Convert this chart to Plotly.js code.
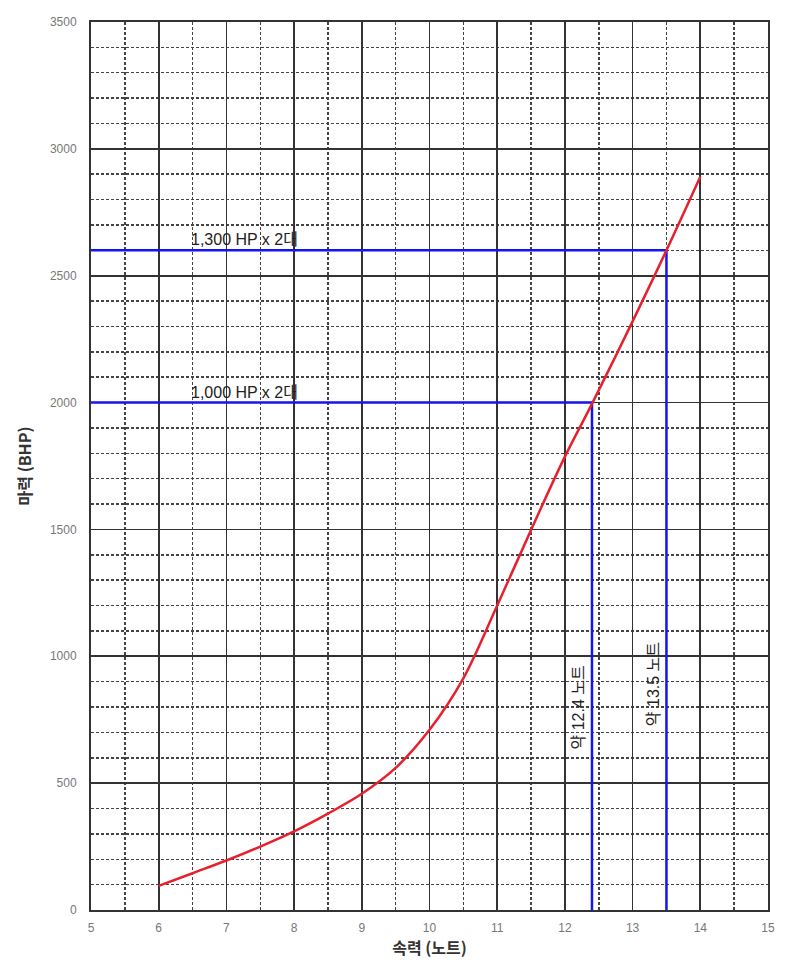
<!DOCTYPE html>
<html>
<head>
<meta charset="utf-8">
<script src="https://cdn.plot.ly/plotly-3.0.1.min.js"></script>
<style>body{margin:0;background:#fff}#chart{width:798px;height:970px}</style>
</head>
<body>
<div id="chart"></div>
<script>
// Data
const speedKnots = [6, 6.5, 7, 7.5, 8, 8.5, 9, 9.5, 10, 10.5, 11, 11.5, 12, 12.4, 13, 13.5, 14];
const powerBHP   = [95, 145, 195, 250, 310, 380, 458, 560, 710, 913, 1200, 1498, 1787, 1995, 2320, 2600, 2890];

const refPowers  = [2000, 2600];
const refSpeeds  = [12.4, 13.5];
const refLabels  = ["1,000 HP x 2대", "1,300 HP x 2대"];
const speedLabels = ["약 12.4 노트", "약 13.5 노트"];
const speedLabelY = [800, 890];

const xTicks = [5, 6, 7, 8, 9, 10, 11, 12, 13, 14, 15];
const yTicks = [0, 500, 1000, 1500, 2000, 2500, 3000, 3500];

const traces = [];
for (let i = 0; i < refPowers.length; i++) {
  traces.push({
    x: [5, refSpeeds[i], refSpeeds[i]],
    y: [refPowers[i], refPowers[i], 0],
    mode: 'lines',
    line: {color: '#1414f0', width: 2.5},
    hoverinfo: 'skip', showlegend: false
  });
}
traces.push({
  x: speedKnots, y: powerBHP,
  mode: 'lines',
  line: {color: '#e8202e', width: 2.5, shape: 'spline', smoothing: 1},
  showlegend: false
});

const annFont = {family: 'Liberation Sans, Noto Sans CJK KR, sans-serif', size: 16, color: '#222'};
const annotations = [];
for (let i = 0; i < refPowers.length; i++) {
  annotations.push({
    x: 7.27, y: refPowers[i], xref: 'x', yref: 'y',
    text: refLabels[i], showarrow: false, yanchor: 'bottom', yshift: 0,
    font: annFont
  });
  annotations.push({
    x: refSpeeds[i], y: speedLabelY[i], xref: 'x', yref: 'y', text: speedLabels[i], textangle: -90,
    showarrow: false, xanchor: 'right', xshift: -3,
    font: annFont
  });
}

const layout = {
  width: 798, height: 970,
  margin: {l: 91, r: 30, t: 22, b: 60},
  paper_bgcolor: '#fff', plot_bgcolor: '#fff',
  showlegend: false,
  font: {family: 'Liberation Sans, Noto Sans CJK KR, sans-serif', color: '#777', size: 11},
  xaxis: {
    range: [5, 15], tickvals: xTicks, ticktext: xTicks.map(String),
    showgrid: true, gridcolor: '#333', gridwidth: 1.8,
    minor: {dtick: 0.5, tick0: 5, showgrid: true, gridcolor: '#444', gridwidth: 1.5, griddash: '3px,2px', ticks: ''},
    showline: true, linecolor: '#333', linewidth: 2, mirror: true,
    ticks: '', zeroline: false, ticklabelstandoff: 6,
    tickfont: {size: 12, color: '#777'},
    title: {text: '<b>속력 (노트)</b>', standoff: 4, font: {family: 'Noto Sans CJK KR, sans-serif', size: 16, color: '#333'}}
  },
  yaxis: {
    range: [0, 3500], tickvals: yTicks, ticktext: yTicks.map(String),
    showgrid: true, gridcolor: '#333', gridwidth: 1.8,
    minor: {dtick: 100, tick0: 0, showgrid: true, gridcolor: '#444', gridwidth: 1.5, griddash: '3px,2px', ticks: ''},
    showline: true, linecolor: '#333', linewidth: 2, mirror: true,
    ticks: '', zeroline: false, ticklabelstandoff: 10,
    tickfont: {size: 12, color: '#777'},
    title: {text: '<b>마력 (BHP)</b>', standoff: 14, font: {family: 'Noto Sans CJK KR, sans-serif', size: 16, color: '#333'}}
  },
  annotations: annotations
};

Plotly.newPlot('chart', traces, layout, {displayModeBar: false, staticPlot: true});
</script>
</body>
</html>
